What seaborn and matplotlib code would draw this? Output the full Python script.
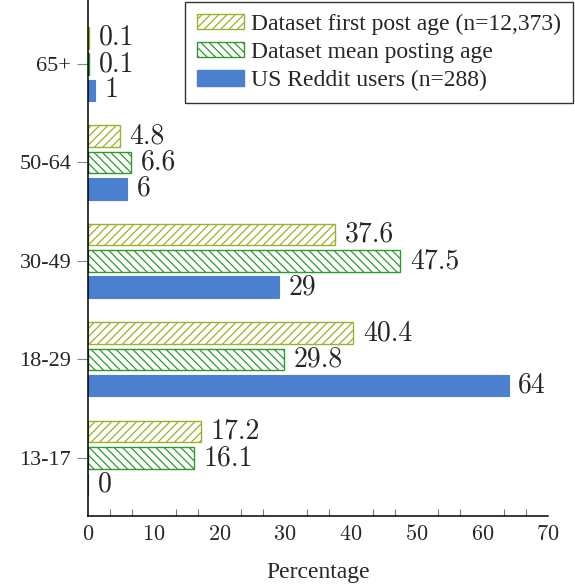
import pandas as pd
import matplotlib
matplotlib.use('Agg')
import matplotlib.pyplot as plt
import seaborn as sns
from matplotlib.patches import Patch
from matplotlib.ticker import MultipleLocator

# Datos
grupos = ['65+', '50-64', '30-49', '18-29', '13-17']
series = ['Dataset first post age (n=12,373)',
          'Dataset mean posting age',
          'US Reddit users (n=288)']
primer_post = [0.1, 4.8, 37.6, 40.4, 17.2]
media_post = [0.1, 6.6, 47.5, 29.8, 16.1]
reddit_us = [1, 6, 29, 64, 0]

colores = ['#9DB12C', '#2E9A2E', '#4A80CE']
tramas = ['////', '\\\\\\\\', None]

df = pd.DataFrame({
    'grupo': grupos * 3,
    'serie': [s for s in series for _ in grupos],
    'valor': primer_post + media_post + reddit_us,
})

sns.set_style('white')
# texto en Times (Liberation Serif), numeros en Computer Modern
plt.rcParams['font.family'] = ['Liberation Serif', 'DejaVu Serif']
plt.rcParams['axes.formatter.use_mathtext'] = True
plt.rcParams['mathtext.fontset'] = 'cm'
plt.rcParams['hatch.linewidth'] = 0.9
fuente_num = ['cmr10', 'DejaVu Serif']

fig = plt.figure(figsize=(5.75, 5.86), dpi=100)
ax = fig.add_axes([88 / 575, 1 - 516 / 586, 460 / 575, 516 / 586])

sns.barplot(data=df, x='valor', y='grupo', hue='serie', order=grupos,
            hue_order=series, palette=colores, orient='h', width=0.8,
            gap=0.18, legend=False, ax=ax)

for cont, color, trama in zip(ax.containers, colores, tramas):
    for barra in cont:
        if trama:
            barra.set_facecolor('white')
            barra.set_edgecolor(color)
            barra.set_hatch(trama)
            barra.set_linewidth(1.0)
        else:
            barra.set_facecolor(color)
            barra.set_edgecolor(color)
            barra.set_linewidth(0.8)
    ax.bar_label(cont, fmt='%g', padding=7, fontsize=20, family=fuente_num)

ax.set_xlim(0, 70)
ax.set_ylim(4.59, -0.65)
ax.xaxis.set_major_locator(MultipleLocator(10))
ax.xaxis.set_minor_locator(MultipleLocator(10 / 3))
ax.tick_params(axis='x', which='major', direction='in', length=8, width=0.8,
               color='#777777', labelsize=16, pad=6)
ax.tick_params(axis='x', which='minor', direction='in', length=5, width=0.8,
               color='#777777', bottom=True)
ax.tick_params(axis='y', direction='out', length=8, width=0.8,
               color='#888888', labelsize=16, pad=4, left=True)
for t in ax.get_xticklabels():
    t.set_family(fuente_num)

for lado in ['top', 'right']:
    ax.spines[lado].set_visible(False)
for lado in ['left', 'bottom']:
    ax.spines[lado].set_color('black')
    ax.spines[lado].set_linewidth(1.1)

ax.set_xlabel('Percentage', fontsize=17, labelpad=13)
ax.set_ylabel('')

manejadores = []
for s, color, trama in zip(series, colores, tramas):
    if trama:
        manejadores.append(Patch(facecolor='white', edgecolor=color, hatch=trama, label=s))
    else:
        manejadores.append(Patch(facecolor=color, edgecolor=color, label=s))
leg = ax.legend(handles=manejadores, loc='upper right',
                bbox_to_anchor=(573 / 575, 1 - 2 / 586),
                bbox_transform=fig.transFigure, borderaxespad=0,
                fontsize=17, frameon=True, fancybox=False, framealpha=1,
                edgecolor='#333333', handlelength=2.0, handleheight=0.62,
                handletextpad=0.3, labelspacing=0.3, borderpad=0.5)
leg.get_frame().set_linewidth(1.0)

fig.savefig('out.png', dpi=100)
